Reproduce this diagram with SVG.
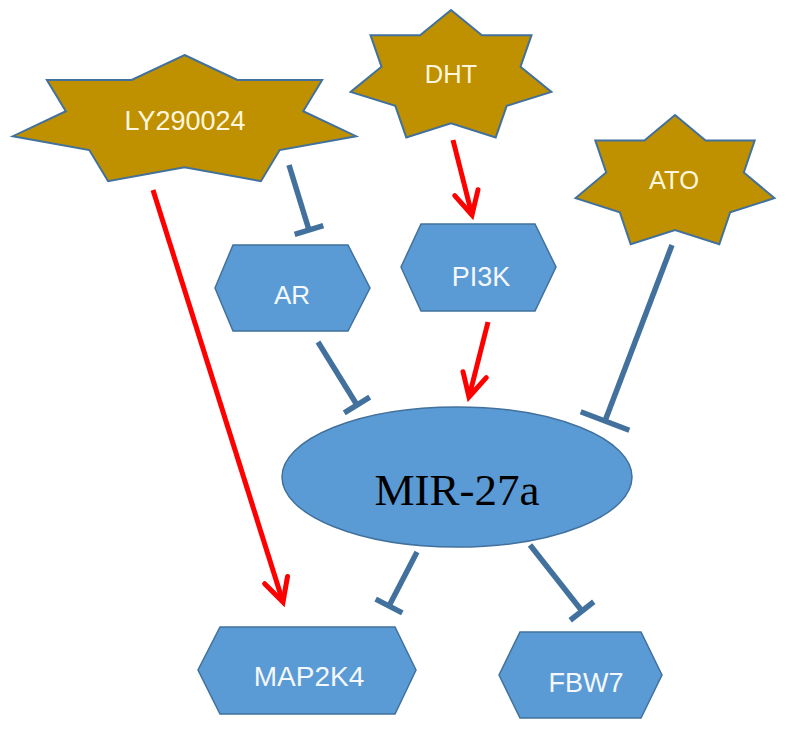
<svg xmlns="http://www.w3.org/2000/svg" width="786" height="734" viewBox="0 0 786 734">
<style>
.star{fill:#BF9000;stroke:#41719C;stroke-width:2;stroke-linejoin:miter}
.hex{fill:#5B9BD5;stroke:#41719C;stroke-width:1.5}
.lbl{font-family:"Liberation Sans",Arial,sans-serif;font-size:27px;fill:#FFF6DD;text-anchor:middle}
.wl{fill:#F4F8FC}
.inh{stroke:#41719C;stroke-width:5.5;fill:none}
.act{stroke:#FF0000;stroke-width:5;fill:none}
</style>
<defs>
<marker id="tee" markerUnits="userSpaceOnUse" markerWidth="40" markerHeight="40" viewBox="-20 -20 40 40" refX="0" refY="0" orient="auto" overflow="visible">
<path d="M0,-15 L0,15" stroke="#41719C" stroke-width="5.5" fill="none"/>
</marker>
<marker id="teeL" markerUnits="userSpaceOnUse" markerWidth="60" markerHeight="60" viewBox="-30 -30 60 60" refX="0" refY="0" orient="auto" overflow="visible">
<path d="M0,-26 L0,26" stroke="#41719C" stroke-width="5.5" fill="none"/>
</marker>
<marker id="arr" markerUnits="userSpaceOnUse" markerWidth="40" markerHeight="40" viewBox="-30 -20 40 40" refX="0" refY="0" orient="auto" overflow="visible">
<path d="M-23,-12 L0,0 L-23,12" stroke="#FF0000" stroke-width="5" fill="none" stroke-linecap="round"/>
</marker>
</defs>
<rect width="786" height="734" fill="#FFFFFF"/>

<g id="connectors">
<line class="inh" x1="289" y1="165" x2="309" y2="230" marker-end="url(#tee)"/>
<line class="act" x1="453" y1="140" x2="472" y2="215" marker-end="url(#arr)"/>
<line class="act" x1="488" y1="322" x2="469" y2="397" marker-end="url(#arr)"/>
<line class="inh" x1="318" y1="342" x2="357" y2="405" marker-end="url(#tee)"/>
<line class="inh" x1="672" y1="245" x2="605" y2="421" marker-end="url(#teeL)"/>
<line class="act" x1="153" y1="190" x2="283" y2="602" marker-end="url(#arr)"/>
<line class="inh" x1="417" y1="552" x2="389" y2="606" marker-end="url(#tee)"/>
<line class="inh" x1="530" y1="545" x2="582" y2="611" marker-end="url(#tee)"/>
</g>

<g id="LY290024">
<polygon class="star" points="184.5,55 237.4,80 322.1,80 303.2,111.2 356.1,136.2 279.7,150.1 260.9,181.2 184.5,167.3 108.1,181.2 89.3,150.1 12.9,136.2 65.8,111.2 46.9,80 131.6,80"/>
<text class="lbl" x="185" y="130">LY290024</text>
</g>

<g id="DHT">
<polygon class="star" points="451,10 481.9,35.2 531.5,35.2 520.5,66.7 551.4,91.9 506.7,105.9 495.7,137.4 451,123.4 406.3,137.4 395.3,105.9 350.6,91.9 381.5,66.7 370.5,35.2 420.1,35.2"/>
<text class="lbl" x="451" y="83" style="font-size:25.5px">DHT</text>
</g>

<g id="ATO">
<polygon class="star" points="675,115 705.6,140.6 754.7,140.6 743.8,172.5 774.4,198.1 730.2,212.3 719.3,244.3 675,230.1 630.7,244.3 619.8,212.3 575.6,198.1 606.2,172.5 595.3,140.6 644.4,140.6"/>
<text class="lbl" x="674" y="189" style="font-size:25.5px">ATO</text>
</g>

<g id="AR">
<polygon class="hex" points="233,245 348,245 370,288 348,331 233,331 215,288"/>
<text class="lbl wl" x="292" y="304" style="font-size:26px">AR</text>
</g>

<g id="PI3K">
<polygon class="hex" points="421,224 535,224 556,267 535,311 421,311 401,267"/>
<text class="lbl wl" x="481" y="286">PI3K</text>
</g>

<g id="MIR-27a">
<ellipse cx="457" cy="477" rx="175" ry="70" fill="#5B9BD5" stroke="#41719C" stroke-width="1.5"/>
<text x="457" y="505" text-anchor="middle" style="font-family:'Liberation Serif','Times New Roman',serif;font-size:45px;fill:#000000">MIR-27a</text>
</g>

<g id="MAP2K4">
<polygon class="hex" points="220,627 395,627 416,670 395,714 220,714 198,670"/>
<text class="lbl wl" x="309" y="686" style="font-size:28px">MAP2K4</text>
</g>

<g id="FBW7">
<polygon class="hex" points="520,632 641,632 662,675 641,718 520,718 499,675"/>
<text class="lbl wl" x="586" y="692">FBW7</text>
</g>
</svg>
